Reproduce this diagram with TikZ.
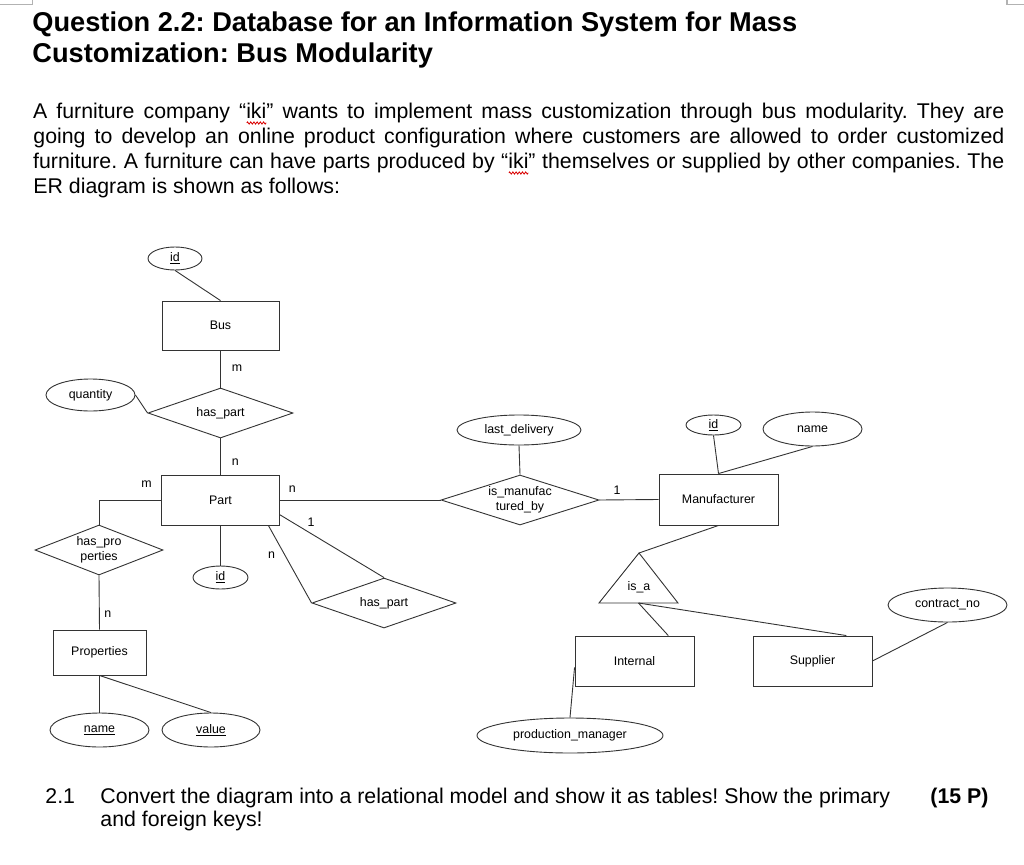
\documentclass[tikz,border=0pt]{standalone}
\usepackage{fontspec}
\setmainfont{Liberation Sans}
\usetikzlibrary{shapes.geometric,positioning,decorations.pathmorphing}
\frenchspacing

\newcommand\diagfont{\fontsize{12.4}{14.5}\selectfont}
\newcommand\titlefont{\fontsize{27.2}{31}\selectfont\bfseries}
\newcommand\bodyfont{\fontsize{21.3}{25}\selectfont}
\newcommand\fullline[1]{\hbox to 971pt{#1}}
\newcommand\keyattr[1]{\underline{#1}}
\newsavebox\wavebox
\newcommand\spellwave[1]{\sbox\wavebox{#1}\rlap{\tikz[overlay, baseline=0pt, x=1pt, y=1pt]\draw[red!85!black, line width=0.8pt, decorate, decoration={zigzag, amplitude=1.1pt, segment length=3.2pt}] (0.5,-5) -- (\the\wd\wavebox,-5);}\usebox\wavebox}

\begin{document}
\begin{tikzpicture}[x=1pt, y=-1pt, line width=0.9pt, draw=black!80,
    entity box/.style={rectangle, draw, inner sep=0pt},
    attr node/.style={ellipse, draw, inner sep=0pt},
    rel node/.style={diamond, draw, inner sep=0pt, align=center},
    card label/.style={inner sep=0pt, font=\diagfont},
    title line/.style={anchor=base west, inner sep=0pt, font=\titlefont},
    body line/.style={anchor=base west, inner sep=0pt, font=\bodyfont}]
        \tikzstyle{every node}=[font=\diagfont]

        \fill[white] (0,0) rectangle (1024,864);
        \useasboundingbox (0,0) rectangle (1024,864);

        % page corners
        \draw[black!30, line width=1.5pt] (0,4.5) -- (32.5,4.5) -- (32.5,0);
        \draw[black!30, line width=1.5pt] (1024,4.5) -- (1007,4.5) -- (1007,0);

        % question text
        \node[title line] (title1) at (32,32) {Question 2.2: Database for an Information System for Mass};
        \node[title line] (title2) at (32,63) {Customization: Bus Modularity};

        \node[body line] (body1) at (33,118) {\fullline{A furniture company “\spellwave{iki}” wants to implement mass customization through bus modularity. They are}};
        \node[body line] (body2) at (33,143) {\fullline{going to develop an online product configuration where customers are allowed to order customized}};
        \node[body line] (body3) at (33,168) {\fullline{furniture. A furniture can have parts produced by “\spellwave{iki}” themselves or supplied by other companies. The}};
        \node[body line] (body4) at (33,193) {ER diagram is shown as follows:};

        % entities
        \node[entity box, minimum width=117pt, minimum height=49pt] (bus) at (220.5,325.5) {Bus};
        \node[entity box, minimum width=118pt, minimum height=50pt] (part) at (220.5,500) {Part};
        \node[entity box, minimum width=93pt, minimum height=45pt] (props) at (99.5,652.5) {Properties};
        \node[entity box, minimum width=119pt, minimum height=51pt] (mfr) at (718.5,499.5) {Manufacturer};
        \node[entity box, minimum width=119pt, minimum height=50pt] (internal) at (634.5,661) {Internal};
        \node[entity box, minimum width=119pt, minimum height=50pt] (supplier) at (812.5,661) {Supplier};

        % relationships
        \node[rel node, aspect=2.9, minimum width=145pt, minimum height=50pt] (haspart1) at (220.5,413) {has\_part};
        \node[rel node, aspect=2.56, minimum width=128pt, minimum height=50pt] (hasprop) at (99,550) {has\_pro\\perties};
        \node[rel node, aspect=3.16, minimum width=158pt, minimum height=50pt] (ismfd) at (520,500) {is\_manufac\\tured\_by};
        \node[rel node, aspect=2.9, minimum width=144pt, minimum height=50pt] (haspart2) at (384,603) {has\_part};

        % is_a
        \coordinate (isa top) at (639,553);
        \coordinate (isa left) at (599,603);
        \coordinate (isa right) at (678,603);
        \coordinate (isa base) at (638.5,603);
        \draw (isa top) -- (isa right) -- (isa left) -- cycle;
        \node (isa) at (639,587) {is\_a};

        % attributes
        \node[attr node, minimum width=54pt, minimum height=23pt] (busid) at (175,258.5) {\keyattr{id}};
        \node[attr node, minimum width=89pt, minimum height=32pt] (qty) at (90.5,395) {quantity};
        \node[attr node, minimum width=55pt, minimum height=23pt] (partid) at (220.5,577.5) {\keyattr{id}};
        \node[attr node, minimum width=99pt, minimum height=34pt] (pname) at (99.5,730) {\keyattr{name}};
        \node[attr node, minimum width=98pt, minimum height=34pt] (pvalue) at (211,730) {\keyattr{value}};
        \node[attr node, minimum width=124pt, minimum height=30pt] (lastdel) at (519,430) {last\_delivery};
        \node[attr node, minimum width=55pt, minimum height=20pt] (mfrid) at (713.5,425) {\keyattr{id}};
        \node[attr node, minimum width=99pt, minimum height=34pt] (mfrname) at (812.5,429) {name};
        \node[attr node, minimum width=119pt, minimum height=34pt] (contract) at (947.5,605) {contract\_no};
        \node[attr node, minimum width=186pt, minimum height=35pt] (prodman) at (570,735.5) {production\_manager};

        % connectors
        \path (busid.south) edge (bus.north)
              (bus.south) edge node[card label, pos=0.47, right=11pt] {m} (haspart1.north)
              (qty.east) edge (haspart1.west)
              (haspart1.south) edge node[card label, pos=0.65, right=11pt] {n} (part.north)
              (hasprop.south) edge node[card label, pos=0.71, right=4.5pt] {n} (props.north)
              (props.south) edge (pname.north)
              (props.south) edge (pvalue.north)
              (part.south) edge (partid.north)
              (part.east) edge node[card label, pos=0.077, above=6.8pt] {n} (ismfd.west)
              (part.-14) edge node[card label, pos=0.3, above=6.4pt] {1} (haspart2.north)
              (part.-28) edge node[card label, pos=0.385, left=9.5pt] {n} (haspart2.west)
              (lastdel.south) edge (ismfd.north)
              (ismfd.east) edge node[card label, pos=0.3, above=4.5pt] {1} (mfr.west)
              (mfrid.south) edge (mfr.north)
              (mfrname.south) edge (mfr.north)
              (mfr.south) edge (isa top)
              (isa base) edge (internal.37.6)
              (isa base) edge (supplier.37.6)
              (contract.south) edge (supplier.east)
              (prodman.north) edge (internal.186);
        \draw (part.west) -| node[card label, pos=0.116, above=12pt] {m} (hasprop.north);

        % task
        \node[body line] (tasknum) at (45,803) {2.1};
        \node[body line] (task1) at (100,803) {Convert the diagram into a relational model and show it as tables! Show the primary};
        \node[body line] (task2) at (100,826) {and foreign keys!};
        \node[body line] (points) at (930,803) {\bfseries (15 P)};
\end{tikzpicture}
\end{document}
